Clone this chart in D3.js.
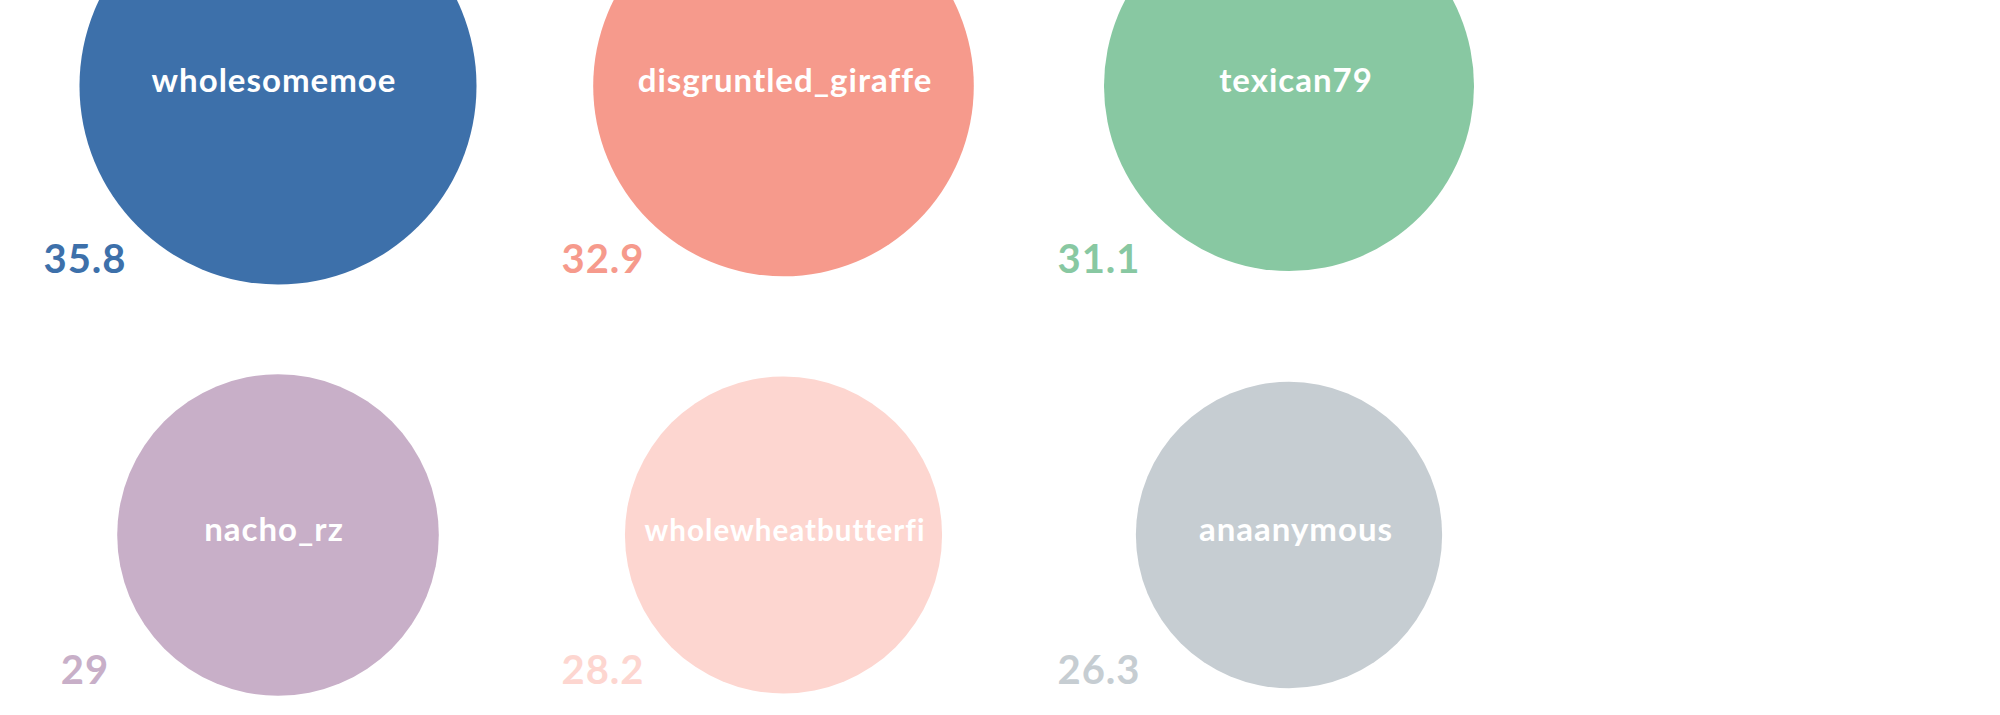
<!DOCTYPE html>
<html>
<head>
<meta charset="utf-8">
<script src="https://cdn.jsdelivr.net/npm/d3@7"></script>
<style>
  body { margin: 0; background: #fff; }
  svg { display: block; }
  text { font-family: Lato, "Open Sans", sans-serif; font-weight: 700; }
</style>
</head>
<body>
<div id="plot"></div>
<script>
// top scorers, two rows of three
var users = ["wholesomemoe", "disgruntled_giraffe", "texican79", "nacho_rz", "wholewheatbutterfi", "anaanymous"];
var scores = [35.8, 32.9, 31.1, 29, 28.2, 26.3];
var colors = ["#3d70aa", "#f69a8c", "#88c8a2", "#c8afc8", "#fdd6d0", "#c6cdd2"];

window.addEventListener('load', main);

function main(){
  var width = 2000, height = 715;

  var data = users.map(function(u, i){
    return {name: u, score: scores[i], color: colors[i], row: Math.floor(i / 3), col: i % 3};
  });

  var svg = d3.select('#plot')
    .append('svg')
      .attr('width', width)
      .attr('height', height);

  var colX = d3.scalePoint().domain([0, 1, 2]).range([278, 1289]);
  var nameX = d3.scalePoint().domain([0, 1, 2]).range([274, 1296]);
  var scoreX = d3.scaleOrdinal().domain([0, 1, 2]).range([85, 603, 1099]);
  var rowY = d3.scaleOrdinal().domain([0, 1]).range([86, 535]);

  // every row gets its own sqrt scale, biggest bubble sized from the row max
  var rows = d3.group(data, d => d.row);
  rows.forEach(function(items){
    var mx = d3.max(items, d => d.score);
    var r = d3.scaleSqrt().domain([0, mx]).range([0, mx * 5.545]);
    items.forEach(function(d){ d.r = r(d.score); d.rowMaxR = r(mx); });
  });

  svg.selectAll('circle')
    .data(data)
    .join('circle')
      .attr('cx', d => colX(d.col))
      .attr('cy', d => rowY(d.row))
      .attr('r', d => d.r)
      .attr('fill', d => d.color);

  svg.selectAll('text.name')
    .data(data)
    .join('text')
      .attr('class', 'name')
      .attr('text-anchor', 'middle')
      .attr('x', d => nameX(d.col))
      .attr('y', d => rowY(d.row) + 6)
      .attr('fill', '#fff')
      .style('font-size', '33px')
      .style('letter-spacing', '1px')
      .text(d => d.name)
      .each(function(d){
        // shrink names that don't fit the bubble
        var w = this.getComputedTextLength();
        var maxW = d.r * 2 * 0.88;
        if (w > maxW) d3.select(this).style('font-size', (33 * maxW / w) + 'px');
      });

  svg.selectAll('text.score')
    .data(data)
    .join('text')
      .attr('class', 'score')
      .attr('text-anchor', 'middle')
      .attr('x', d => scoreX(d.col))
      .attr('y', d => rowY(d.row) + d.rowMaxR - 12)
      .attr('fill', d => d.color)
      .style('font-size', '40px')
      .style('letter-spacing', '1px')
      .text(d => d.score);
}
</script>
</body>
</html>
